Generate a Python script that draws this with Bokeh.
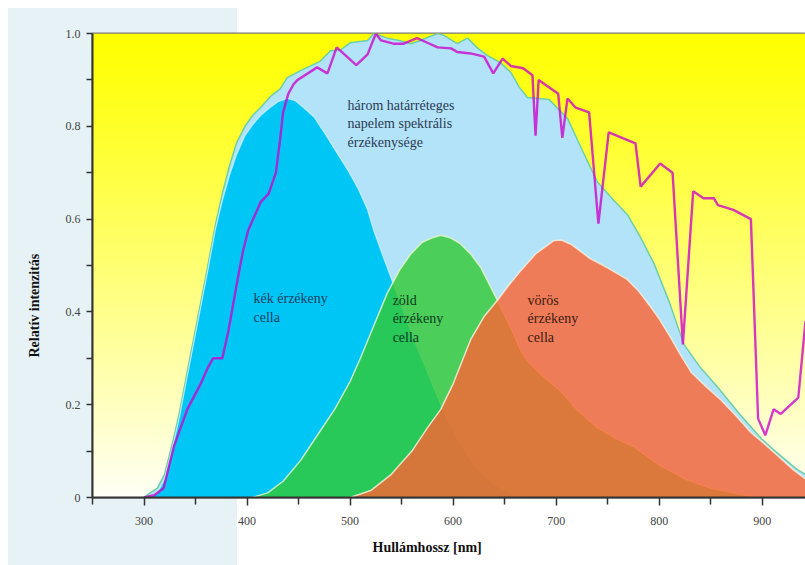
import numpy as np
from bokeh.plotting import figure
from bokeh.models import Label, FixedTicker, Range1d, Title
from bokeh.embed import file_html
from bokeh.resources import INLINE

# ---------------- data ----------------
env_nm = [300, 306, 313, 320, 329, 335, 341, 348, 355, 362, 369, 376, 383, 390, 398, 406, 413,
          423, 432, 439, 452, 471, 481, 491, 500, 517, 523, 536, 548, 559, 568, 585, 591, 604,
          614, 624, 633, 646, 656, 664, 672, 693, 711, 725, 740, 756, 769, 782, 795, 810, 824,
          840, 857, 878, 899, 915, 934, 942]
env_val = [0.0, 0.01, 0.02, 0.05, 0.13, 0.19, 0.26, 0.34, 0.42, 0.50, 0.585, 0.655, 0.715, 0.765,
           0.80, 0.825, 0.84, 0.865, 0.88, 0.905, 0.92, 0.94, 0.963, 0.965, 0.98, 0.985, 1.0,
           0.99, 0.985, 0.978, 0.985, 1.0, 0.996, 0.978, 0.99, 0.968, 0.953, 0.937, 0.916,
           0.885, 0.862, 0.858, 0.817, 0.75, 0.68, 0.64, 0.61, 0.56, 0.504, 0.42, 0.33, 0.28,
           0.237, 0.18, 0.127, 0.095, 0.06, 0.05]

blue_nm = [306, 313, 320, 329, 335, 341, 348, 355, 362, 369, 376, 383, 390, 398, 406, 414, 422,
           430, 439, 447, 455, 465, 478, 488, 498, 508, 517, 523, 532, 542, 552, 562, 575, 588,
           598, 607, 620, 639, 663]
blue_val = [0.0, 0.01, 0.04, 0.12, 0.18, 0.25, 0.33, 0.41, 0.49, 0.575, 0.64, 0.695, 0.74, 0.78,
            0.805, 0.825, 0.84, 0.853, 0.86, 0.855, 0.84, 0.82, 0.776, 0.74, 0.705, 0.665, 0.62,
            0.575, 0.52, 0.46, 0.40, 0.34, 0.27, 0.20, 0.155, 0.116, 0.07, 0.03, 0.0]

green_nm = [405, 420, 435, 452, 470, 485, 500, 510, 523, 536, 548, 559, 570, 580, 588, 597, 607,
            617, 627, 635, 643, 655, 665, 672, 688, 704, 720, 740, 760, 775, 800, 825, 850, 872, 895]
green_val = [0.0, 0.01, 0.035, 0.08, 0.14, 0.19, 0.25, 0.30, 0.37, 0.44, 0.49, 0.525, 0.55, 0.56,
             0.565, 0.56, 0.547, 0.525, 0.495, 0.46, 0.425, 0.37, 0.32, 0.295, 0.26, 0.23, 0.19,
             0.15, 0.125, 0.11, 0.07, 0.04, 0.02, 0.01, 0.0]

red_nm = [500, 520, 540, 560, 575, 588, 600, 617, 630, 643, 655, 666, 680, 698, 705, 715, 733,
          750, 769, 780, 792, 800, 811, 820, 831, 845, 860, 875, 889, 900, 915, 930, 942]
red_val = [0.0, 0.015, 0.05, 0.10, 0.15, 0.19, 0.245, 0.34, 0.39, 0.425, 0.46, 0.49, 0.525, 0.554,
           0.555, 0.545, 0.515, 0.495, 0.47, 0.445, 0.41, 0.385, 0.345, 0.31, 0.27, 0.24, 0.21,
           0.175, 0.14, 0.12, 0.09, 0.06, 0.04]

sun_nm = [300, 310, 319, 329, 342, 355, 362, 367, 376, 382, 390, 396, 401, 413, 421, 428, 432,
          435, 440, 445, 449, 468, 478, 487, 506, 517, 525, 530, 542, 552, 565, 575, 585, 598,
          604, 617, 630, 639, 648, 656, 668, 677, 680, 683, 702, 706, 711, 719, 732, 741, 751,
          777, 782, 801, 813, 823, 833, 843, 853, 857, 872, 889, 896, 903, 911, 918, 935, 942]
sun_val = [0.0, 0.005, 0.02, 0.11, 0.19, 0.245, 0.28, 0.30, 0.30, 0.36, 0.46, 0.53, 0.575, 0.636,
           0.655, 0.70, 0.77, 0.83, 0.87, 0.89, 0.90, 0.927, 0.914, 0.97, 0.932, 0.955, 1.0,
           0.985, 0.978, 0.978, 0.99, 0.98, 0.97, 0.968, 0.96, 0.957, 0.95, 0.914, 0.946, 0.93,
           0.925, 0.91, 0.78, 0.90, 0.87, 0.775, 0.86, 0.84, 0.83, 0.59, 0.787, 0.763, 0.67,
           0.72, 0.70, 0.33, 0.66, 0.645, 0.645, 0.63, 0.62, 0.60, 0.17, 0.134, 0.19, 0.18,
           0.215, 0.38]

x_ticks = [300, 400, 500, 600, 700, 800, 900]
x_minor = [250, 350, 450, 550, 650, 750, 850, 950]
y_ticks = [0, 0.2, 0.4, 0.6, 0.8, 1.0]
y_tick_labels = ["0", "0.2", "0.4", "0.6", "0.8", "1.0"]
y_minor = [0.1, 0.3, 0.5, 0.7, 0.9]

SERIF = "Liberation Serif"

# ---------------- figure ----------------
p = figure(width=805, height=565, x_range=Range1d(250, 942), y_range=Range1d(0, 1),
           output_backend="svg", toolbar_location=None,
           min_border_left=92, min_border_right=0, min_border_top=33, min_border_bottom=68)
p.grid.visible = False
p.border_fill_alpha = 0
p.styles = {"background": (
    "linear-gradient(to bottom, #FFFFFF 0px, #FFFFFF 8px, rgba(255,255,255,0) 8px), "
    "linear-gradient(to right, #FFFFFF 0px, #FFFFFF 8px, #E6F2F5 8px, #E6F2F5 237px, "
    "#FFFFFF 237px)")}
p.outline_line_color = "#7a7a7a"
p.outline_line_width = 2

# yellow gradient background of the frame
N = 200
img = np.empty((N, 1), dtype=np.uint32)
view = img.view(dtype=np.uint8).reshape((N, 1, 4))
frac = np.linspace(0, 1, N)  # 0 bottom -> 1 top
view[:, 0, 0] = 255
view[:, 0, 1] = 255
view[:, 0, 2] = (246 * (1 - frac) ** 1.1).astype(np.uint8)
view[:, 0, 3] = 255
p.image_rgba(image=[img], x=250, y=0, dw=692, dh=1)

# envelope (three-junction)
p.varea(x=env_nm, y1=0, y2=env_val, fill_color="#B3E3F8")
p.line(env_nm, env_val, line_color="#6CCFA8", line_width=1.5)

# blue cell
p.varea(x=blue_nm, y1=0, y2=blue_val, fill_color="#00C6F6")
p.line(blue_nm, blue_val, line_color="#DDF4FC", line_width=1.2, line_alpha=0.7)

# green cell
p.varea(x=green_nm, y1=0, y2=green_val, fill_color="#32C832", fill_alpha=0.8)
p.line(green_nm, green_val, line_color="#E4F5C8", line_width=1.5, line_alpha=0.85)

# red cell
p.varea(x=red_nm, y1=0, y2=red_val, fill_color="#FB6534", fill_alpha=0.82)
p.line(red_nm, red_val, line_color="#F6EEDC", line_width=1.5, line_alpha=0.85)

# solar spectrum
p.line(sun_nm, sun_val, line_color="#CC00CC", line_width=2.4, line_alpha=0.78)

# ---------------- axes ----------------
for ax in (p.xaxis[0], p.yaxis[0]):
    ax.axis_line_color = "#333333"
    ax.axis_line_width = 2
    ax.major_tick_line_color = "#333333"
    ax.minor_tick_line_color = "#333333"
    ax.major_tick_line_width = 1.5
    ax.minor_tick_line_width = 1.5
    ax.major_tick_in = 0
    ax.minor_tick_in = 0
    ax.major_label_text_font = SERIF
    ax.major_label_text_font_size = "12px"
    ax.major_label_text_color = "#444444"

p.xaxis.ticker = FixedTicker(ticks=x_ticks, minor_ticks=x_minor)
p.xaxis.major_tick_out = 8
p.xaxis.minor_tick_out = 7
p.xaxis.major_label_standoff = 11

p.yaxis.ticker = FixedTicker(ticks=y_ticks, minor_ticks=y_minor)
p.yaxis.major_label_overrides = {t: l for t, l in zip(y_ticks, y_tick_labels)}
p.yaxis.major_tick_out = 6
p.yaxis.minor_tick_out = 6
p.yaxis.major_label_standoff = 6

# axis titles
p.add_layout(Title(text="Relatív intenzitás", align="left", offset=140, standoff=42,
                   text_font=SERIF, text_font_style="bold", text_font_size="14px",
                   text_color="#111111"), "left")
p.add_layout(Title(text="Hullámhossz [nm]", align="left", offset=280, standoff=20,
                   text_font=SERIF, text_font_style="bold", text_font_size="14px",
                   text_color="#111111"), "below")

# annotations inside the plot
def add_lines(lines, x, ys, color):
    for t, y in zip(lines, ys):
        p.add_layout(Label(x=x, y=y, text=t, text_align="left", text_baseline="middle",
                           text_font=SERIF, text_font_size="14px", text_color=color))

add_lines(["három határréteges", "napelem spektrális", "érzékenysége"], 497.5,
          [0.845, 0.806, 0.765], "#2B3A55")
add_lines(["kék érzékeny", "cella"], 406.3, [0.429, 0.388], "#173F5F")
add_lines(["zöld", "érzékeny", "cella"], 541.3, [0.425, 0.386, 0.345], "#0B3B1E")
add_lines(["vörös", "érzékeny", "cella"], 672.3, [0.425, 0.386, 0.345], "#3D1A12")

open("out.html", "w").write(file_html(p, INLINE))
